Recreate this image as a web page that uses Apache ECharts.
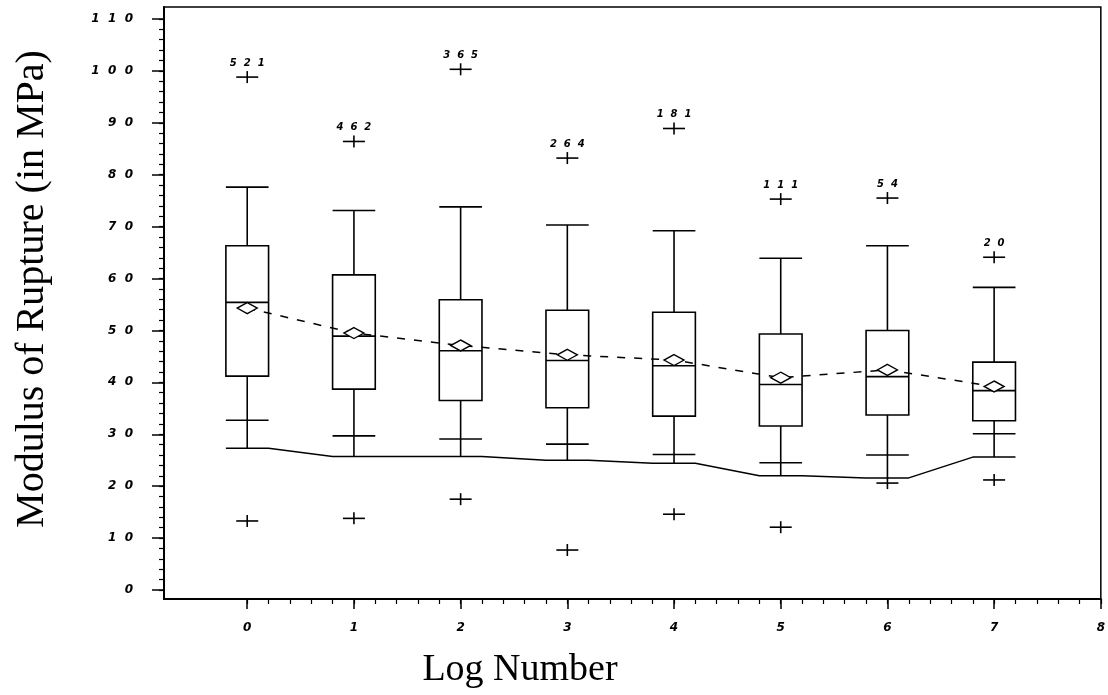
<!DOCTYPE html>
<html>
<head>
<meta charset="utf-8">
<script src="https://cdn.jsdelivr.net/npm/echarts@6/dist/echarts.min.js"></script>
<style>
  html, body { margin: 0; padding: 0; background: #fff; }
  #chart { width: 1108px; height: 695px; }
</style>
</head>
<body>
<div id="chart"></div>
<script>
// Modulus of rupture by log number: box plots with means, outliers and a lower limit line
const logNumbers  = [0, 1, 2, 3, 4, 5, 6, 7];
const sampleSizes = [521, 462, 365, 264, 181, 111, 54, 20];
const upperCap    = [77.6, 73.1, 73.8, 70.3, 69.2, 63.9, 66.3, 58.3];
const q3          = [66.3, 60.7, 55.9, 53.9, 53.5, 49.3, 50.0, 43.9];
const median      = [55.4, 48.9, 46.1, 44.2, 43.2, 39.6, 41.1, 38.4];
const mean        = [54.3, 49.5, 47.1, 45.3, 44.3, 40.9, 42.4, 39.2];
const q1          = [41.2, 38.7, 36.5, 35.1, 33.5, 31.6, 33.7, 32.6];
const lowerCap    = [32.7, 29.7, 29.1, 28.1, 26.1, 24.5, 26.0, 30.1];
const lowerLimit  = [27.3, 25.7, 25.7, 25.0, 24.4, 22.0, 21.6, 25.6];
const highOutlier = [98.8, 86.4, 100.3, 83.2, 88.9, 75.3, 75.5, 64.1];
const lowOutlier  = [13.3, 13.8, 17.5, 7.7, 14.6, 12.1, 20.6, 21.2];

const xTicks = [0, 1, 2, 3, 4, 5, 6, 7, 8];
const yTicks = [0, 10, 20, 30, 40, 50, 60, 70, 80, 90, 100, 110];

const BOX_W = 0.4;
const X_MIN = -0.78, X_MAX = 8;
const Y_MIN = -1.73, Y_MAX = 112.3;

// minor tick positions
const xMinor = [];
for (let i = 0; i <= 40; i++) xMinor.push(+(i * 0.2).toFixed(1));
const yMinor = [];
for (let v = 0; v <= 110; v += 2) yMinor.push(v);

const tickFont = 'DejaVu Sans';
const spaced = v => String(v).split('').join('  ');

const boxData = logNumbers.map((x, i) => [x, upperCap[i], q3[i], median[i], q1[i], lowerLimit[i], lowerCap[i]]);
const outlierData = logNumbers.map((x, i) => [x, highOutlier[i], sampleSizes[i]])
  .concat(logNumbers.map((x, i) => [x, lowOutlier[i], -1]));
const limitLine = [];
logNumbers.forEach((x, i) => {
  limitLine.push([x - BOX_W / 2, lowerLimit[i]]);
  limitLine.push([x + BOX_W / 2, lowerLimit[i]]);
});
const meanLine = logNumbers.map((x, i) => [x, mean[i]]);

const LW = 1.6;
const seg = (x1, y1, x2, y2) => ({
  type: 'line',
  shape: { x1, y1, x2, y2 },
  style: { stroke: '#000', lineWidth: LW }
});

function renderBox(params, api) {
  const x = api.value(0);
  const hw = api.size([BOX_W, 0])[0] / 2;
  const cx = api.coord([x, 0])[0];
  const y = k => api.coord([x, api.value(k)])[1];
  const yUp = y(1), yQ3 = y(2), yMed = y(3), yQ1 = y(4), yLim = y(5), yCap = y(6);
  return {
    type: 'group',
    children: [
      seg(cx, yQ3, cx, yUp),
      seg(cx - hw, yUp, cx + hw, yUp),
      seg(cx, yQ1, cx, yLim),
      seg(cx - hw, yCap, cx + hw, yCap),
      {
        type: 'rect',
        shape: { x: cx - hw, y: yQ3, width: 2 * hw, height: yQ1 - yQ3 },
        style: { stroke: '#000', fill: 'none', lineWidth: LW }
      },
      seg(cx - hw, yMed, cx + hw, yMed)
    ]
  };
}

function renderOutlier(params, api) {
  const p = api.coord([api.value(0), api.value(1)]);
  const n = api.value(2);
  const children = [
    seg(p[0] - 11, p[1], p[0] + 11, p[1]),
    seg(p[0], p[1] - 6, p[0], p[1] + 6)
  ];
  if (n > 0) {
    children.push({
      type: 'text',
      x: p[0], y: p[1] - 14,
      style: {
        text: spaced(n),
        align: 'center', verticalAlign: 'middle',
        font: 'italic bold 10px "' + tickFont + '"',
        fill: '#000'
      }
    });
  }
  return { type: 'group', children };
}

const chart = echarts.init(document.getElementById('chart'), null, { renderer: 'canvas' });

const axisLabelStyle = {
  fontFamily: tickFont, fontStyle: 'italic', fontWeight: 'bold', fontSize: 12, color: '#000'
};

chart.setOption({
  animation: false,
  backgroundColor: '#fff',
  grid: {
    left: 164, right: 5, top: 7, bottom: 96,
    show: true, borderColor: '#000', borderWidth: 1.5, backgroundColor: 'transparent'
  },
  xAxis: [
    {
      type: 'value', min: X_MIN, max: X_MAX, position: 'bottom',
      axisLine: { show: true, onZero: false, lineStyle: { color: '#000', width: 2 } },
      axisTick: { show: true, inside: false, length: 10, customValues: xTicks, lineStyle: { color: '#000', width: 1.5 } },
      axisLabel: { show: true, margin: 23, customValues: xTicks, ...axisLabelStyle },
      splitLine: { show: false }
    },
    {
      type: 'value', min: X_MIN, max: X_MAX, position: 'bottom', offset: 0,
      axisLine: { show: false, onZero: false },
      axisTick: { show: true, inside: false, length: 5, customValues: xMinor, lineStyle: { color: '#000', width: 1.2 } },
      axisLabel: { show: false },
      splitLine: { show: false }
    }
  ],
  yAxis: [
    {
      type: 'value', min: Y_MIN, max: Y_MAX, position: 'left',
      axisLine: { show: true, onZero: false, lineStyle: { color: '#000', width: 2 } },
      axisTick: { show: true, inside: false, length: 12, customValues: yTicks, lineStyle: { color: '#000', width: 1.5 } },
      axisLabel: { show: true, margin: 31, customValues: yTicks, formatter: v => spaced(v), ...axisLabelStyle },
      splitLine: { show: false }
    },
    {
      type: 'value', min: Y_MIN, max: Y_MAX, position: 'left', offset: 0,
      axisLine: { show: false, onZero: false },
      axisTick: { show: true, inside: false, length: 5, customValues: yMinor, lineStyle: { color: '#000', width: 1.2 } },
      axisLabel: { show: false },
      splitLine: { show: false }
    }
  ],
  graphic: [
    {
      type: 'text', x: 32, y: 289, rotation: Math.PI / 2,
      style: {
        text: 'Modulus of Rupture (in MPa)',
        font: '40px "Liberation Serif"', fill: '#000',
        align: 'center', verticalAlign: 'middle'
      }
    },
    {
      type: 'text', x: 520, y: 670,
      style: {
        text: 'Log Number',
        font: '38px "Liberation Serif"', fill: '#000',
        align: 'center', verticalAlign: 'middle'
      }
    }
  ],
  series: [
    {
      name: 'lower limit', type: 'line', data: limitLine,
      symbol: 'none', silent: true, z: 2,
      lineStyle: { color: '#000', width: 1.5 }
    },
    {
      name: 'box', type: 'custom', data: boxData,
      encode: { x: 0, y: [1, 2, 3, 4, 5, 6] },
      renderItem: renderBox, silent: true, z: 3
    },
    {
      name: 'mean', type: 'line', data: meanLine,
      symbol: 'diamond', symbolSize: [20, 11], silent: true, z: 4,
      lineStyle: { color: '#000', width: 1.5, type: [8, 9] },
      itemStyle: { color: '#fff', borderColor: '#000', borderWidth: 1.5 }
    },
    {
      name: 'outliers', type: 'custom', data: outlierData,
      encode: { x: 0, y: 1 },
      renderItem: renderOutlier, silent: true, z: 5
    }
  ]
});
</script>
</body>
</html>
